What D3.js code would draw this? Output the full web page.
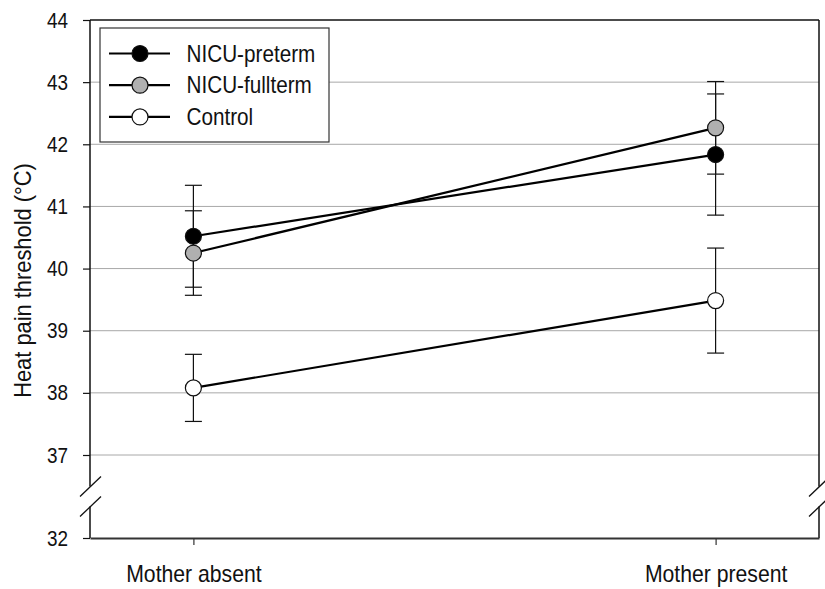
<!DOCTYPE html>
<html>
<head>
<meta charset="utf-8">
<script src="https://cdn.jsdelivr.net/npm/d3@7"></script>
<style>
  body { margin: 0; background: #fff; }
  text { font-family: "Liberation Sans", Arial, sans-serif; fill: #111; }
</style>
</head>
<body>
<div id="chart"></div>
<script>
// Heat pain threshold by condition
const conditions = ["Mother absent", "Mother present"];
const groupNames = ["NICU-preterm", "NICU-fullterm", "Control"];
const pretermMean = [40.52, 41.835];
const pretermErr = [0.82, 0.975];
const fulltermMean = [40.25, 42.265];
const fulltermErr = [0.68, 0.745];
const controlMean = [38.08, 39.485];
const controlErr = [0.54, 0.845];
const yTicks = [32, 37, 38, 39, 40, 41, 42, 43, 44];
const gridTicks = [37, 38, 39, 40, 41, 42, 43];
const breakValue = 34.5;

const width = 825, height = 589;
const plotLeft = 90, plotRight = 819, plotTop = 20, plotBottom = 538;

const svg = d3.select("#chart").append("svg")
    .attr("width", width)
    .attr("height", height);

const x = d3.scalePoint()
    .domain(conditions)
    .range([plotLeft, plotRight])
    .padding(0.198);

// broken axis: 32 sits below the break, 37..44 above
const y = d3.scaleLinear()
    .domain([32, 37, 44])
    .range([plotBottom, 455, plotTop]);

// grid
svg.append("g")
    .selectAll("line")
    .data(gridTicks)
    .enter()
    .append("line")
    .attr("x1", plotLeft)
    .attr("x2", plotRight)
    .attr("y1", d => y(d))
    .attr("y2", d => y(d))
    .attr("stroke", "#a8a8a8")
    .attr("stroke-width", 1);

// top frame line
svg.append("line")
    .attr("x1", plotLeft).attr("x2", plotRight)
    .attr("y1", y(44)).attr("y2", y(44))
    .attr("stroke", "#111").attr("stroke-width", 1.5);

// left / right axis lines with a gap at the break
const by = y(breakValue);
const gap = 10;
[plotLeft, plotRight].forEach(ax => {
    svg.append("line")
        .attr("x1", ax).attr("x2", ax)
        .attr("y1", y(44)).attr("y2", by - gap)
        .attr("stroke", "#111").attr("stroke-width", 1.5);
    svg.append("line")
        .attr("x1", ax).attr("x2", ax)
        .attr("y1", by + gap).attr("y2", y(32))
        .attr("stroke", "#111").attr("stroke-width", 1.5);
    [-gap, gap].forEach(o => {
        svg.append("line")
            .attr("x1", ax - 10).attr("y1", by + o + 10)
            .attr("x2", ax + 11).attr("y2", by + o - 10)
            .attr("stroke", "#111").attr("stroke-width", 1.3);
    });
});

// left ticks and labels (narrow type: squeeze horizontally)
const yAxis = svg.append("g")
    .attr("transform", `translate(${plotLeft},0)`)
    .call(d3.axisLeft(y).tickValues(yTicks).tickSize(7).tickPadding(18.6).tickFormat(d3.format("d")));
yAxis.select(".domain").remove();
yAxis.selectAll(".tick line").attr("stroke", "#111").attr("stroke-width", 1.2);
yAxis.selectAll(".tick text")
    .style("font-size", "22px")
    .attr("fill", "#111")
    .attr("transform", "scale(0.86,1)");

// bottom axis
const xAxis = svg.append("g")
    .attr("transform", `translate(0,${plotBottom})`)
    .call(d3.axisBottom(x).tickSize(7).tickPadding(19.5).tickSizeOuter(0));
xAxis.select(".domain").attr("stroke", "#333").attr("stroke-width", 2.2);
xAxis.selectAll(".tick line").attr("stroke", "#333").attr("stroke-width", 1.2);
xAxis.selectAll(".tick text")
    .style("font-size", "24px")
    .attr("fill", "#111")
    .attr("transform", "scale(0.883,1)");

// y label
svg.append("text")
    .attr("transform", `translate(31,${(163 + 398) / 2}) rotate(-90) scale(0.93,1)`)
    .attr("text-anchor", "middle")
    .style("font-size", "23.5px")
    .text("Heat pain threshold (\u00B0C)");

const series = [
    { name: groupNames[2], mean: controlMean, err: controlErr, fill: "#ffffff" },
    { name: groupNames[1], mean: fulltermMean, err: fulltermErr, fill: "#b0b0b0" },
    { name: groupNames[0], mean: pretermMean, err: pretermErr, fill: "#000000" }
];

const line = d3.line()
    .x((d, i) => x(conditions[i]))
    .y(d => y(d));

// error bars
series.forEach(s => {
    const g = svg.append("g");
    g.selectAll("line.bar")
        .data(s.mean)
        .enter()
        .append("line")
        .attr("x1", (d, i) => x(conditions[i]))
        .attr("x2", (d, i) => x(conditions[i]))
        .attr("y1", (d, i) => y(d + s.err[i]))
        .attr("y2", (d, i) => y(d - s.err[i]))
        .attr("stroke", "#111").attr("stroke-width", 1.2);
    [1, -1].forEach(sign => {
        g.selectAll(null)
            .data(s.mean)
            .enter()
            .append("line")
            .attr("x1", (d, i) => x(conditions[i]) - 8.5)
            .attr("x2", (d, i) => x(conditions[i]) + 8.5)
            .attr("y1", (d, i) => y(d + sign * s.err[i]))
            .attr("y2", (d, i) => y(d + sign * s.err[i]))
            .attr("stroke", "#111").attr("stroke-width", 1.2);
    });
});

// connecting lines
series.forEach(s => {
    svg.append("path")
        .datum(s.mean)
        .attr("d", line)
        .attr("fill", "none")
        .attr("stroke", "#000")
        .attr("stroke-width", 2.2);
});

// markers
series.forEach(s => {
    svg.append("g")
        .selectAll("circle")
        .data(s.mean)
        .enter()
        .append("circle")
        .attr("cx", (d, i) => x(conditions[i]))
        .attr("cy", d => y(d))
        .attr("r", 8)
        .attr("fill", s.fill)
        .attr("stroke", "#111")
        .attr("stroke-width", 1.2);
});

// legend
const legend = svg.append("g");
legend.append("rect")
    .attr("x", 100).attr("y", 28)
    .attr("width", 229).attr("height", 114)
    .attr("fill", "#fff")
    .attr("stroke", "#333")
    .attr("stroke-width", 1.2);

const legendItems = [series[2], series[1], series[0]];
legendItems.forEach((s, i) => {
    const ly = 53.5 + i * 31.7;
    legend.append("line")
        .attr("x1", 109).attr("x2", 170)
        .attr("y1", ly).attr("y2", ly)
        .attr("stroke", "#000").attr("stroke-width", 2.2);
    legend.append("circle")
        .attr("cx", 140).attr("cy", ly).attr("r", 8)
        .attr("fill", s.fill).attr("stroke", "#111").attr("stroke-width", 1.2);
    legend.append("text")
        .attr("transform", `translate(186.5,${ly}) scale(0.9,1)`)
        .attr("dy", "0.36em")
        .style("font-size", "23px")
        .text(s.name);
});
</script>
</body>
</html>
